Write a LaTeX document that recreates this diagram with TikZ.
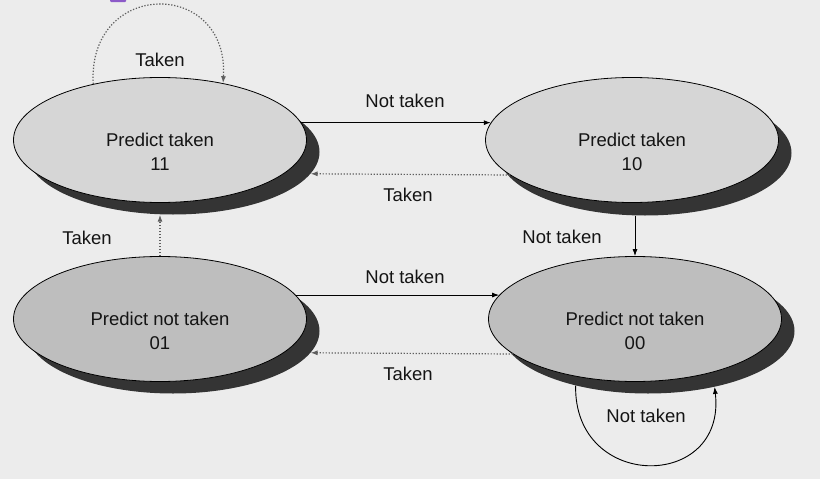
\documentclass[tikz,border=0pt]{standalone}
\usepackage{fontspec}
\setmainfont{Liberation Sans}
\usetikzlibrary{arrows.meta,shapes.geometric,calc}
\definecolor{bgc}{RGB}{236,236,236}
\definecolor{topfill}{RGB}{214,214,214}
\definecolor{botfill}{RGB}{190,190,190}
\definecolor{shadowc}{RGB}{52,52,52}
\definecolor{dotc}{RGB}{95,95,95}
\definecolor{txtc}{RGB}{20,20,20}
\definecolor{markc}{RGB}{140,90,200}
\begin{document}
\begin{tikzpicture}[x=1pt,y=-1pt,
  state/.style={ellipse,draw=black,line width=0.8pt,minimum width=293pt,minimum height=125pt,inner sep=0pt},
  statetext/.style={align=center,text=txtc,font=\fontsize{18.5}{24}\selectfont,inner sep=0pt,yshift=-12pt},
  topstate/.style={state,fill=topfill},
  botstate/.style={state,fill=botfill},
  shadowell/.style={ellipse,fill=shadowc,minimum width=293pt,minimum height=125pt,inner sep=0pt},
  solidarrow/.style={draw=black,line width=0.9pt,-{Latex[length=7pt,width=5pt]}},
  dotarrow/.style={draw=dotc,line width=1.2pt,dash pattern=on 1.3pt off 1.7pt,-{Latex[length=7pt,width=5pt]}},
  lbl/.style={text=txtc,font=\fontsize{18.5}{22}\selectfont,inner sep=0pt}]
\useasboundingbox (0,0) rectangle (820,479);
\fill[bgc] (0,0) rectangle (820,479);
\fill[markc, rounded corners=1pt] (110,-2) rectangle (126,2);

% shadows
\node[shadowell] (s11) at (173,152) {};
\node[shadowell] (s10) at (645,153) {};
\node[shadowell] (s01) at (173,331) {};
\node[shadowell] (s00) at (648,331) {};

% states
\node[topstate,label={[statetext]center:{Predict taken\\11}}] (n11) at (160,140) {};
\node[topstate,label={[statetext]center:{Predict taken\\10}}] (n10) at (632,140) {};
\node[botstate,label={[statetext]center:{Predict not taken\\01}}] (n01) at (160,319) {};
\node[botstate,label={[statetext]center:{Predict not taken\\00}}] (n00) at (635,319) {};

% connectors
\draw[solidarrow] (n11.7) -- (n10.173);
\draw[dotarrow] (n10.196) -- (s11.-9.6);
\draw[solidarrow] (s10.south -| n00.north) -- (n00.north);
\draw[dotarrow] (n01.north) -- (n01.north |- s11.south);
\draw[solidarrow] (n01.10) -- (n00.170);
\draw[dotarrow] (n00.196) -- (s01.-9.6);
\draw[dotarrow] (n11.140) .. controls +(-6,-105) and +(6,-105) .. (n11.42);
\draw[solidarrow] (s00.217) .. controls +(-2,106) and +(12,104) .. (s00.-40);

% labels
\node[lbl] (l1) at (160,60) {Taken};
\node[lbl] (l2) at (405,101) {Not taken};
\node[lbl] (l3) at (408,195) {Taken};
\node[lbl] (l4) at (87,238) {Taken};
\node[lbl] (l5) at (562,237) {Not taken};
\node[lbl] (l6) at (405,277) {Not taken};
\node[lbl] (l7) at (408,374) {Taken};
\node[lbl] (l8) at (646,416) {Not taken};
\end{tikzpicture}
\end{document}
